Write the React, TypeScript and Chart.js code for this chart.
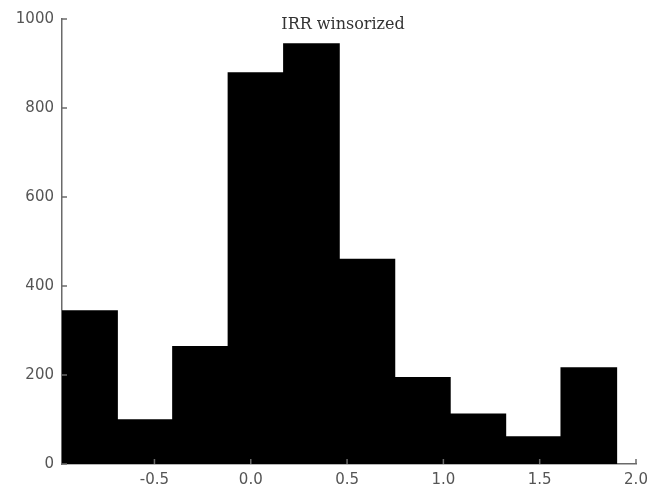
import React, { useEffect, useRef } from "react";
import { Chart, registerables } from "chart.js";

Chart.register(...registerables);

const chartTitle = "IRR winsorized";
const binCenters = [-0.837, -0.549, -0.261, 0.027, 0.315, 0.603, 0.891, 1.179, 1.467, 1.755];
const counts = [344, 99, 264, 879, 944, 460, 194, 112, 61, 216];
const xTicks = [-0.5, 0.0, 0.5, 1.0, 1.5, 2.0];
const xMin = -0.98;
const xMax = 2.0;
const yMin = 0;
const yMax = 1000;
const yStep = 200;

const AXIS_COLOR = "#6a6a6a";
const LABEL_COLOR = "#555555";

const inwardTicks = {
  id: "inwardTicks",
  afterDatasetsDraw(chart: any) {
    const { ctx, chartArea, scales } = chart;
    ctx.save();
    ctx.strokeStyle = AXIS_COLOR;
    ctx.lineWidth = 1.5;
    const ys = scales.y;
    ys.ticks.forEach((t: any) => {
      const py = ys.getPixelForValue(t.value);
      ctx.beginPath();
      ctx.moveTo(chartArea.left, py);
      ctx.lineTo(chartArea.left + 5, py);
      ctx.stroke();
    });
    const xs = scales.x;
    xs.ticks.forEach((t: any) => {
      const px = xs.getPixelForValue(t.value);
      ctx.beginPath();
      ctx.moveTo(px, chartArea.bottom);
      ctx.lineTo(px, chartArea.bottom - 5);
      ctx.stroke();
    });
    ctx.restore();
  },
};

const titlePlugin = {
  id: "innerTitle",
  afterDraw(chart: any) {
    const { ctx, chartArea } = chart;
    ctx.save();
    ctx.font = "16px 'DejaVu Serif'";
    ctx.fillStyle = "#333333";
    ctx.textAlign = "center";
    ctx.textBaseline = "alphabetic";
    ctx.fillText(chartTitle, (chartArea.left + chartArea.right) / 2 - 6, chartArea.top + 10);
    ctx.restore();
  },
};

export default function App() {
  const canvasRef = useRef<HTMLCanvasElement | null>(null);

  useEffect(() => {
    if (!canvasRef.current) return;
    const chart = new Chart(canvasRef.current, {
      type: "bar",
      data: {
        datasets: [
          {
            data: binCenters.map((c, i) => ({ x: c, y: counts[i] })),
            backgroundColor: "#000000",
            borderWidth: 0,
            inflateAmount: 0.6,
            barPercentage: 1,
            categoryPercentage: 1,
          },
        ],
      },
      options: {
        responsive: false,
        animation: false,
        devicePixelRatio: 1,
        layout: { padding: { top: 19, right: 32, left: 0, bottom: 0 } },
        plugins: {
          legend: { display: false },
          title: { display: false },
          tooltip: { enabled: false },
        },
        scales: {
          x: {
            type: "linear",
            offset: false,
            min: xMin,
            max: xMax,
            afterBuildTicks: (scale: any) => {
              scale.ticks = xTicks.map((v) => ({ value: v }));
            },
            afterFit: (scale: any) => {
              scale.height = 31;
            },
            grid: { display: true, drawOnChartArea: false, drawTicks: false, offset: false },
            border: { display: true, color: AXIS_COLOR, width: 1.5 },
            ticks: {
              padding: 7,
              color: LABEL_COLOR,
              font: { family: "'DejaVu Sans'", size: 15 },
              callback: (v: any) => Number(v).toFixed(1),
              maxRotation: 0,
              autoSkip: false,
            },
          },
          y: {
            type: "linear",
            min: yMin,
            max: yMax,
            afterFit: (scale: any) => {
              scale.width = 62;
            },
            grid: { display: true, drawOnChartArea: false, drawTicks: false },
            border: { display: true, color: AXIS_COLOR, width: 1.5 },
            ticks: {
              stepSize: yStep,
              padding: 8,
              color: LABEL_COLOR,
              font: { family: "'DejaVu Sans'", size: 15 },
              callback: (v: any) => String(v),
            },
          },
        },
      },
      plugins: [inwardTicks, titlePlugin],
    });
    return () => chart.destroy();
  }, []);

  return (
    <div style={{ position: "fixed", left: 0, top: 0, width: 668, height: 495, background: "#fff" }}>
      <canvas ref={canvasRef} width={668} height={495} />
    </div>
  );
}
